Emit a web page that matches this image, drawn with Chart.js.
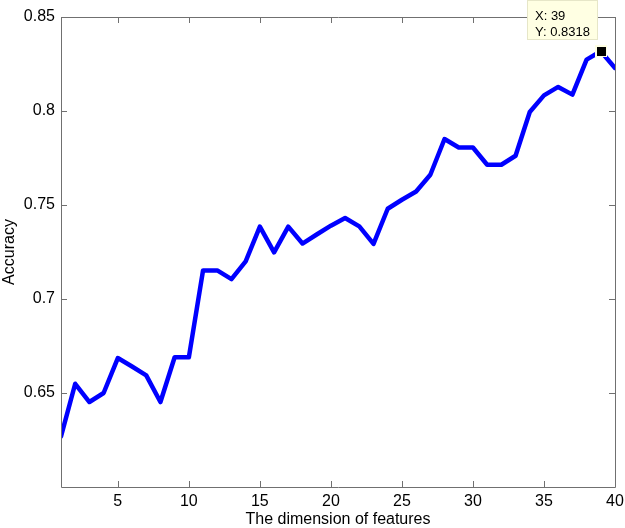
<!DOCTYPE html>
<html>
<head>
<meta charset="utf-8">
<script src="https://cdn.jsdelivr.net/npm/chart.js@4"></script>
<style>
    html, body { margin: 0; padding: 0; background: #fff; }
    #wrap { width: 625px; height: 528px; }
</style>
</head>
<body>
<div id="wrap"><canvas id="chart"></canvas></div>
<script>
// feature dimension 1..40 and the accuracy
const dims = [1, 2, 3, 4, 5, 6, 7, 8, 9, 10, 11, 12, 13, 14, 15, 16, 17, 18, 19, 20,
    21, 22, 23, 24, 25, 26, 27, 28, 29, 30, 31, 32, 33, 34, 35, 36, 37, 38, 39, 40]
const accuracy = [0.6269, 0.6549, 0.6452, 0.6500, 0.6686, 0.6641, 0.6594, 0.6452, 0.6690, 0.6690,
    0.7152, 0.7152, 0.7106, 0.7200, 0.7385, 0.7248, 0.7385, 0.7295, 0.7343, 0.7390,
    0.7431, 0.7386, 0.7293, 0.7480, 0.7528, 0.7572, 0.7661, 0.7851, 0.7806, 0.7806,
    0.7714, 0.7714, 0.7762, 0.7995, 0.8083, 0.8128, 0.8087, 0.8273, 0.8318, 0.8229]
const xTicks = [5, 10, 15, 20, 25, 30, 35, 40]
const yTicks = [0.65, 0.7, 0.75, 0.8, 0.85]
const tipPoint = { x: 39, y: 0.8318 }

const font = 'Liberation Sans, Arial, sans-serif'

// matlab style box with inward ticks on all four sides
const framePlugin = {
    id: 'frame',
    afterDatasetsDraw(chart) {
        const ctx = chart.ctx
        const a = chart.chartArea
        const xs = chart.scales.x
        const ys = chart.scales.y
        const len = 6
        ctx.save()
        ctx.strokeStyle = '#707070'
        ctx.lineWidth = 1
        ctx.beginPath()
        ctx.rect(Math.round(a.left) + 0.5, Math.round(a.top) + 0.5,
            Math.round(a.right - a.left), Math.round(a.bottom - a.top))
        for (const v of xTicks) {
            const px = Math.round(xs.getPixelForValue(v)) + 0.5
            ctx.moveTo(px, a.bottom)
            ctx.lineTo(px, a.bottom - len)
            ctx.moveTo(px, a.top)
            ctx.lineTo(px, a.top + len)
        }
        for (const v of yTicks) {
            const py = Math.round(ys.getPixelForValue(v)) + 0.5
            ctx.moveTo(a.left, py)
            ctx.lineTo(a.left + len, py)
            ctx.moveTo(a.right, py)
            ctx.lineTo(a.right - len, py)
        }
        ctx.stroke()
        ctx.restore()
    },
    afterDraw(chart) {
        // data tip at the peak
        const ctx = chart.ctx
        const px = chart.scales.x.getPixelForValue(tipPoint.x)
        const py = chart.scales.y.getPixelForValue(tipPoint.y)
        ctx.save()
        const bw = 70, bh = 39
        const bx = Math.round(px - 3.5 - bw) + 0.5
        const by = Math.round(py - 12 - bh) + 0.5
        ctx.fillStyle = '#ffffe3'
        ctx.strokeStyle = '#e6e6c8'
        ctx.lineWidth = 1
        ctx.fillRect(bx, by, bw, bh)
        ctx.strokeRect(bx, by, bw, bh)
        ctx.fillStyle = '#000'
        ctx.font = '13px ' + font
        ctx.textBaseline = 'alphabetic'
        ctx.fillText('X: ' + tipPoint.x, bx + 7.5, by + 19)
        ctx.fillText('Y: ' + tipPoint.y, bx + 7.5, by + 35)
        ctx.fillStyle = '#ffffe3'
        ctx.fillRect(Math.round(px) - 6, Math.round(py) - 6, 12, 12)
        ctx.fillStyle = '#000'
        ctx.fillRect(Math.round(px) - 4, Math.round(py) - 4, 9, 9)
        ctx.restore()
    }
}

new Chart(document.getElementById('chart'), {
    type: 'line',
    data: {
        datasets: [{
            data: dims.map((d, i) => ({ x: d, y: accuracy[i] })),
            borderColor: '#0000ff',
            borderWidth: 4.5,
            pointRadius: 0,
            tension: 0,
            borderJoinStyle: 'round',
            borderCapStyle: 'round'
        }]
    },
    options: {
        responsive: true,
        maintainAspectRatio: false,
        animation: false,
        layout: {
            padding: { top: 17, right: 10, left: 0, bottom: 0 }
        },
        plugins: {
            legend: { display: false },
            tooltip: { enabled: false }
        },
        scales: {
            x: {
                type: 'linear',
                min: 1,
                max: 40,
                afterBuildTicks: scale => {
                    scale.ticks = xTicks.map(v => ({ value: v }))
                },
                afterFit: scale => {
                    scale.height = 41
                    scale.paddingLeft = 0
                    scale.paddingRight = 0
                },
                grid: { display: false, drawTicks: false },
                border: { display: false },
                ticks: {
                    padding: 5,
                    color: '#000',
                    maxRotation: 0,
                    font: { family: font, size: 16 }
                },
                title: {
                    display: true,
                    text: 'The dimension of features',
                    color: '#000',
                    padding: { top: 0, bottom: 0 },
                    font: { family: font, size: 16, lineHeight: 1 }
                }
            },
            y: {
                min: 0.6,
                max: 0.85,
                afterBuildTicks: scale => {
                    scale.ticks = yTicks.map(v => ({ value: v }))
                },
                afterFit: scale => {
                    scale.width = 61
                    scale.paddingTop = 0
                    scale.paddingBottom = 0
                },
                grid: { display: false, drawTicks: false },
                border: { display: false },
                ticks: {
                    padding: 6,
                    color: '#000',
                    font: { family: font, size: 16 },
                    callback: v => String(+v.toFixed(2))
                },
                title: {
                    display: true,
                    text: 'Accuracy',
                    color: '#000',
                    padding: { top: 2, bottom: 0 },
                    font: { family: font, size: 16, lineHeight: 1 }
                }
            }
        }
    },
    plugins: [framePlugin]
})
</script>
</body>
</html>
